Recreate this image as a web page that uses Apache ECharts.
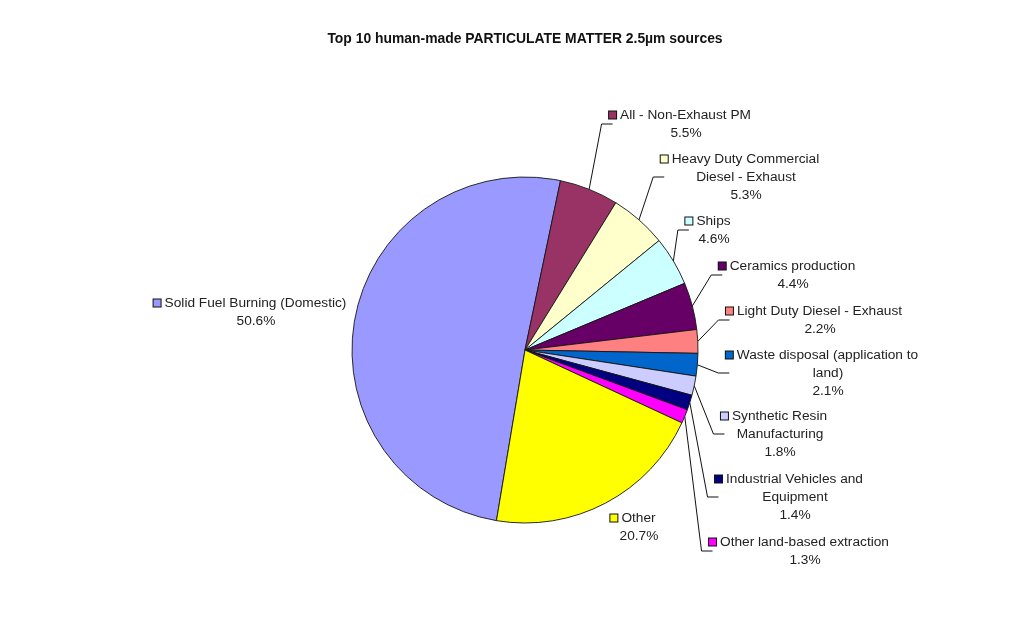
<!DOCTYPE html>
<html>
<head>
<meta charset="utf-8">
<title>Top 10 human-made PARTICULATE MATTER 2.5µm sources</title>
<script src="https://cdn.jsdelivr.net/npm/echarts@6/dist/echarts.min.js"></script>
<style>
  html, body { margin: 0; padding: 0; background: #ffffff; }
  #chart { width: 1025px; height: 624px; }
</style>
</head>
<body>
<div id="chart"></div>
<script>
// Source categories, in drawing order (clockwise)
const sources = [
  'Solid Fuel Burning (Domestic)',
  'All - Non-Exhaust PM',
  'Heavy Duty Commercial\nDiesel - Exhaust',
  'Ships',
  'Ceramics production',
  'Light Duty Diesel - Exhaust',
  'Waste disposal (application to\nland)',
  'Synthetic Resin\nManufacturing',
  'Industrial Vehicles and\nEquipment',
  'Other land-based extraction',
  'Other'
];

// Share of PM2.5 emissions, percent
const shares = [50.6, 5.5, 5.3, 4.6, 4.4, 2.2, 2.1, 1.8, 1.4, 1.3, 20.7];

// Slice colours
const sliceColors = [
  '#9999FF', '#993366', '#FFFFCC', '#CCFFFF', '#660066', '#FF8080',
  '#0066CC', '#CCCCFF', '#000080', '#FF00FF', '#FFFF00'
];

// Label block centres (text centre x, block centre y)
const labelSpots = [
  [256, 312], [686, 124], [746, 177], [714, 230], [793, 275], [820, 320],
  [828, 373], [780, 434], [795, 497], [805, 551], [639, 527]
];
// Labels sitting right next to their slice need no leader line
const noLeader = [0, 10];

const FONT = 'Liberation Sans, Arial, sans-serif';

const rich = {
  t: { fontSize: 13.7, lineHeight: 18, color: '#222', fontFamily: FONT },
  gap: { width: 4, height: 6 },
  pad: { width: 12, height: 6 }
};
sliceColors.forEach(function (c, i) {
  rich['sq' + i] = { width: 7, height: 7, backgroundColor: c, borderColor: '#111', borderWidth: 1 };
});

const chart = echarts.init(document.getElementById('chart'), null, { renderer: 'canvas' });

chart.setOption({
  backgroundColor: '#ffffff',
  animation: false,
  title: {
    text: 'Top 10 human-made PARTICULATE MATTER 2.5µm sources',
    left: 520,
    textAlign: 'center',
    top: 27,
    textStyle: { fontSize: 13.9, fontWeight: 'bold', color: '#111', fontFamily: FONT }
  },
  series: [{
    type: 'pie',
    center: [525, 350],
    radius: 173,
    startAngle: -99.5,
    clockwise: true,
    avoidLabelOverlap: false,
    silent: true,
    itemStyle: { borderColor: '#151515', borderWidth: 0.9 },
    label: {
      show: true,
      position: 'outside',
      rich: rich,
      formatter: function (p) {
        const lines = p.name.split('\n');
        let out = '{sq' + p.dataIndex + '|}{gap|}{t|' + lines[0] + '}{pad|}';
        for (let k = 1; k < lines.length; k++) out += '\n{t|' + lines[k] + '}';
        out += '\n{t|' + p.value.toFixed(1) + '%}';
        return out;
      }
    },
    labelLine: {
      show: true,
      lineStyle: { color: '#111', width: 1 }
    },
    labelLayout: function (params) {
      const i = params.dataIndex;
      const s = labelSpots[i];
      const w = params.labelRect.width;
      const res = { x: s[0], y: s[1], align: 'center', verticalAlign: 'middle' };
      if (noLeader.indexOf(i) < 0 && params.labelLinePoints) {
        const p0 = params.labelLinePoints[0];
        const left = s[0] - w / 2;
        res.labelLinePoints = [
          [p0[0], p0[1]],
          [left - 13, s[1]],
          [left - 2, s[1]]
        ];
      }
      return res;
    },
    data: sources.map(function (name, i) {
      const item = { name: name, value: shares[i], itemStyle: { color: sliceColors[i] } };
      if (noLeader.indexOf(i) >= 0) item.labelLine = { show: false };
      return item;
    })
  }]
});
</script>
</body>
</html>
